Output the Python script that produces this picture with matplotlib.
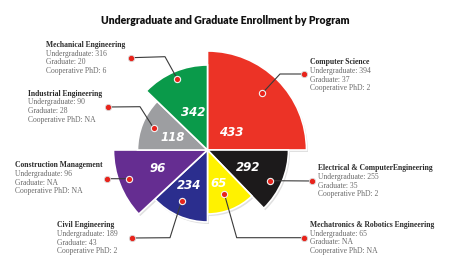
import numpy as np
import matplotlib
matplotlib.use('Agg')
import matplotlib.pyplot as plt
from matplotlib.patches import Wedge

programs = ['Computer Science', 'Electrical & ComputerEngineering', 'Mechatronics & Robotics Engineering',
            'Civil Engineering', 'Construction Management', 'Industrial Engineering', 'Mechanical Engineering']
totals = [433, 292, 65, 234, 96, 118, 342]
undergrad = ['394', '255', '65', '189', '96', '90', '316']
graduate = ['37', '35', 'NA', '43', 'NA', '28', '20']
coop_phd = ['2', '2', 'NA', '2', 'NA', 'NA', '6']

colors = ['#ec3326', '#1c1a1b', '#fff200', '#2b2e8e', '#652d91', '#9d9ea1', '#0a9a4a']

# wedge layout (pixels / degrees), picked to look like the infographic
H = 269
cx, cy = 207.5, H - 150
radii = [99, 81, 64, 72, 94, 70, 85]
edges = [90, 0, -46, -90, -137, -180, -224, -270]
# (angle, radius) of the number inside each wedge
num_pos = [(36, 29), (-23, 44), (-71, 35), (-117, 40), (-160, 53), (161, 37), (111, 40)]
# (angle, radius) of the red dot inside each wedge
dot_pos = [(46, 79), (-26, 70), (-69, 47), (-117, 57), (-160, 84), (158, 58), (113, 77)]
# callout path after the inner dot, in pixel coords (y down)
callouts = [[(280, 74), (303.7, 74)],
            [(312.3, 181)],
            [(236.7, 237.7), (303.7, 237.7)],
            [(170, 237.7), (131.7, 238)],
            [(107.3, 178.7)],
            [(140, 106.7), (107.7, 107)],
            [(165, 56.7), (131, 57.7)]]
text_pos = [(310, 62.3), (317.7, 168.3), (310, 225), (56.7, 225.3), (15, 165.3), (28, 93.7), (46, 45)]


def polar(a, r):
    t = np.radians(a)
    return cx + r * np.cos(t), cy + r * np.sin(t)


fig = plt.figure(figsize=(4.5, 2.69), dpi=100)
ax = fig.add_axes([0, 0, 1, 1])
ax.set_xlim(0, 450)
ax.set_ylim(0, H)
ax.set_aspect('equal')
ax.axis('off')

for i in range(len(totals)):
    t1, t2 = edges[i + 1], edges[i]
    shadow = Wedge((cx + 1.5, cy - 2), radii[i], t1, t2, color='#000000', alpha=0.12, lw=0, zorder=1)
    ax.add_patch(shadow)
    w = Wedge((cx, cy), radii[i], t1, t2, facecolor=colors[i], edgecolor='white', lw=1.2, zorder=2)
    ax.add_patch(w)

    nx, ny = polar(*num_pos[i])
    ax.text(nx, ny, str(totals[i]), color='white', fontsize=8.5, fontweight='bold', fontstyle='italic',
            ha='center', va='center', zorder=4)

    dx, dy = polar(*dot_pos[i])
    path = [(dx, dy)] + [(px, H - py) for px, py in callouts[i]]
    xs, ys = zip(*path)
    ax.plot(xs, ys, color='#3a3a3a', lw=0.8, zorder=3)
    ax.plot(dx, dy, 'o', color='#e8231b', ms=4.5, mec='#f2f2f2', mew=0.8, zorder=5)
    ax.plot(xs[-1], ys[-1], 'o', color='#e8231b', ms=4.5, mec='#d8d8d8', mew=0.6, zorder=5)

    tx, ty = text_pos[i]
    ax.text(tx, H - ty, programs[i], fontsize=5.5, fontweight='bold', color='#2a2a2a',
            family='Liberation Serif', ha='left', va='center')
    lines = ['Undergraduate: ' + undergrad[i], 'Graduate: ' + graduate[i], 'Cooperative PhD: ' + coop_phd[i]]
    for k, s in enumerate(lines):
        ax.text(tx, H - ty - 8.7 * (k + 1), s, fontsize=5.5, color='#6a6a6a',
                family='Liberation Serif', ha='left', va='center')

ax.text(225.5, H - 20, 'Undergraduate and Graduate Enrollment by Program', fontsize=7.6,
        fontweight='heavy', family='Lato', color='#111111', ha='center', va='center')

fig.savefig('out.png', dpi=100)
